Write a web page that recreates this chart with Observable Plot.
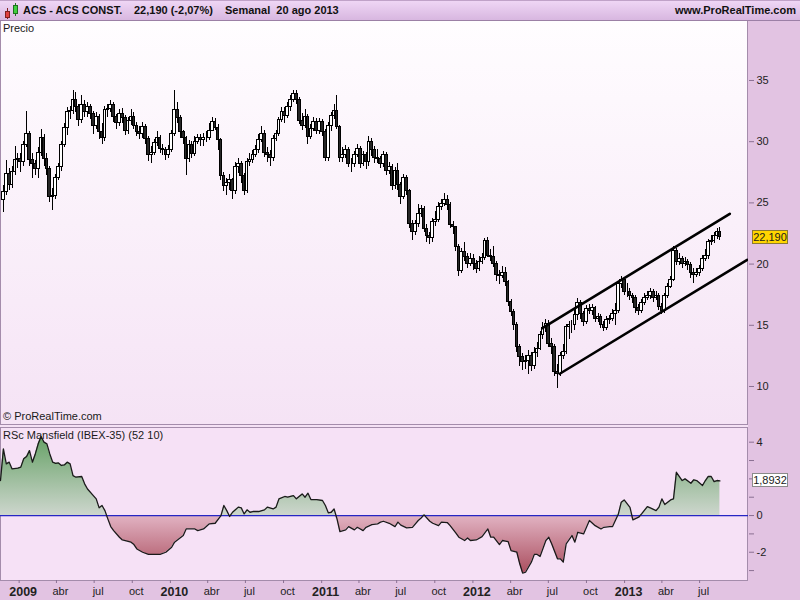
<!DOCTYPE html>
<html><head><meta charset="utf-8">
<script src="https://cdn.jsdelivr.net/npm/d3@7"></script>
<script src="https://cdn.jsdelivr.net/npm/@observablehq/plot@0.6"></script>
<style>
body{margin:0;background:#e2c3e2;font-family:"Liberation Sans",Arial,sans-serif;color:#1a1a1a;}
#page{position:relative;width:800px;height:600px;overflow:hidden;background:#e2c3e2;}
.abs{position:absolute;white-space:nowrap;}
#header{left:0;top:0;width:800px;height:21px;box-sizing:border-box;background:linear-gradient(#efd6f5,#d8b7e0);border-top:1px solid #c0a2c8;border-bottom:1px solid #9c80a6;}
#header span{position:absolute;top:3px;font-weight:bold;font-size:11px;color:#111;}
#pbg{left:0;top:20px;width:748px;height:405px;box-sizing:border-box;background:linear-gradient(#fffdff,#f5e3f5);border-left:1px solid #a48cab;border-right:1px solid #a48cab;border-bottom:1px solid #a48cab;}
#gap{left:0;top:425px;width:748px;height:2px;background:#f5e1f5;}
#rbg{left:0;top:427px;width:748px;height:154px;box-sizing:border-box;background:#f6e1f6;border:1px solid #a48cab;}
.lbl{font-size:11px;color:#1a1a1a;}
.box{font-size:11px;text-align:center;box-sizing:border-box;height:14px;line-height:12px;width:36px;}
</style></head>
<body>
<div id="page">
  <div id="pbg" class="abs"></div>
  <div id="gap" class="abs"></div>
  <div id="rbg" class="abs"></div>
  <div id="header" class="abs">
    <svg class="abs" style="left:2px;top:1px" width="18" height="18">
      <line x1="5.5" y1="6" x2="5.5" y2="17" stroke="#802020"/>
      <rect x="3.5" y="9.5" width="4" height="6" fill="#e04040" stroke="#802020"/>
      <line x1="13.5" y1="1" x2="13.5" y2="14" stroke="#207020"/>
      <rect x="11.5" y="3.5" width="4" height="8" fill="#40d040" stroke="#207020"/>
    </svg>
    <span style="left:23px">ACS - ACS CONST.</span>
    <span style="left:134px">22,190 (-2,07%)</span>
    <span style="left:225px">Semanal&nbsp;&nbsp;20 ago 2013</span>
    <span style="right:4px">www.ProRealTime.com</span>
  </div>
  <div id="pchart" class="abs" style="left:0;top:20px"></div>
  <div id="rchart" class="abs" style="left:0;top:427px"></div>
  <div class="abs lbl" style="left:3px;top:22px">Precio</div>
  <div class="abs lbl" style="left:3px;top:410px">© ProRealTime.com</div>
  <div class="abs lbl" style="left:3px;top:429px">RSc Mansfield (IBEX-35) (52 10)</div>
</div>
<script>
// ---------- DATA ----------
const firstBarWeek = "2008-11-24";      // Monday of the first weekly bar
const firstOpen = 25.2;
const close = [25.9,27.4,26.5,27.5,28.5,28.6,28.3,29.7,30.6,28.5,
28.2,27.8,29.1,30.3,28.6,27.8,25.5,25.6,27.0,27.9,
29.7,31.1,32.4,32.5,33.4,32.8,31.8,33.0,32.4,32.8,
32.3,31.3,32.0,30.8,30.3,32.6,32.7,33.0,32.0,31.5,
32.3,31.9,30.9,31.7,32.0,31.3,30.8,30.6,31.2,30.2,
28.9,29.1,29.9,30.3,29.4,29.3,28.9,29.3,30.6,32.6,
31.9,30.8,30.3,28.6,29.7,29.0,30.0,30.3,
30.1,30.3,30.3,30.9,31.6,31.1,30.1,27.2,26.4,26.6,
26.9,26.0,27.9,28.2,27.2,26.0,28.3,28.5,28.9,29.3,
30.1,30.6,29.1,28.9,28.7,30.2,30.6,31.8,32.4,32.1,
32.8,33.4,33.9,33.4,31.7,31.3,32.0,30.4,31.0,31.6,
30.9,31.6,30.8,28.7,31.3,32.1,32.5,31.2,28.7,28.9,
29.3,28.2,28.2,28.9,29.4,28.2,28.9,28.3,30.0,29.3,
28.7,28.6,28.2,28.9,27.6,27.9,26.4,27.6,26.5,25.5,
27.0,26.0,
23.3,22.6,23.3,24.1,24.5,22.9,22.3,22.1,23.4,23.6,
24.7,24.9,25.2,24.8,23.2,23.0,21.4,19.4,21.0,20.6,
20.0,20.4,20.0,19.6,20.2,20.5,21.9,20.7,20.6,20.0,
19.1,19.0,19.3,18.5,16.9,16.1,15.0,13.2,12.4,12.0,
12.1,12.5,11.7,12.7,13.1,14.2,14.8,15.1,
13.5,13.2,11.2,11.0,12.5,12.8,14.9,15.0,15.0,15.8,
16.8,15.9,15.3,16.3,16.2,16.4,15.5,15.7,15.0,14.8,
15.4,15.5,15.9,16.2,18.4,18.7,17.7,17.7,17.4,17.2,
16.4,16.2,16.8,17.2,17.4,17.7,17.2,17.4,16.5,16.2,
17.4,18.1,18.7,21.1,20.2,20.4,20.0,20.2,19.9,19.3,
19.1,19.3,19.6,20.4,20.7,21.8,21.9,22.3,22.66,22.19];
const high = [26.4,28.5,27.8,28.0,29.6,29.0,29.0,30.0,32.5,30.8,
29.0,28.5,29.5,31.0,30.6,29.0,28.0,26.2,27.3,28.2,
30.0,31.5,32.8,32.9,34.2,34.0,33.0,33.8,33.4,33.2,
33.0,32.5,32.4,32.2,31.5,32.9,33.0,33.4,33.2,32.2,
32.6,32.7,32.1,32.0,32.6,32.4,31.6,31.2,31.6,31.4,
30.4,29.6,30.2,30.8,30.5,29.8,29.5,29.7,30.9,34.2,
33.2,32.1,30.9,30.4,30.1,30.0,30.4,30.6,
30.6,30.7,30.8,31.5,32.0,31.9,31.4,30.3,27.5,27.0,
27.3,27.0,28.3,28.6,28.4,27.4,28.6,29.0,29.3,29.7,
30.6,31.2,30.9,29.5,29.3,30.5,30.9,32.0,32.8,32.8,
33.2,33.8,34.2,34.2,33.6,32.3,32.6,32.2,31.4,32.0,
31.9,31.9,31.8,31.0,31.6,32.4,33.0,33.8,31.3,29.5,
29.7,29.5,28.6,29.2,29.8,29.6,29.2,29.1,30.4,30.3,
29.6,29.4,28.8,29.2,29.1,28.3,28.1,27.9,28.2,26.7,
27.3,27.2,
26.1,23.6,23.6,24.9,24.8,24.7,23.2,22.6,23.7,24.3,
25.0,25.3,25.8,25.6,25.0,23.5,23.1,21.6,21.3,21.8,
20.9,20.9,20.8,20.3,20.6,20.9,22.1,22.2,21.2,21.4,
20.2,19.5,19.8,19.7,18.7,17.1,16.3,15.2,13.4,12.7,
12.5,12.9,12.8,13.2,13.6,14.5,15.2,15.5,
15.4,13.9,13.4,11.8,12.8,13.4,15.1,15.3,15.4,16.2,
17.2,17.0,16.1,16.6,16.7,16.7,16.5,16.0,15.9,15.3,
15.7,15.8,16.3,16.8,18.6,19.0,18.9,18.4,18.0,17.6,
17.4,16.7,17.1,17.6,17.8,18.0,17.9,17.8,17.6,16.8,
17.6,18.4,19.0,21.4,21.3,20.9,20.6,20.5,20.4,20.1,
19.6,19.6,19.9,20.7,21.2,22.0,22.3,22.6,22.9,23.0];
const low = [24.2,25.6,26.0,26.2,27.2,27.8,27.5,28.0,29.5,28.0,
27.0,27.2,27.0,28.8,28.0,27.2,25.0,24.4,25.3,26.8,
27.6,29.5,30.5,31.8,32.2,32.4,31.2,31.5,32.0,32.0,
31.8,30.6,31.0,30.2,29.8,30.0,32.0,32.4,31.6,31.0,
31.2,31.5,30.5,30.6,31.3,31.0,30.4,30.2,30.3,29.8,
28.4,28.2,28.9,29.6,29.0,28.9,28.5,28.6,29.1,30.4,
31.5,30.3,29.8,27.2,28.3,28.6,28.8,29.8,
29.6,29.6,29.9,30.1,30.8,30.9,29.3,26.8,25.9,25.6,
26.0,25.3,25.7,27.4,26.6,25.6,25.8,28.0,28.2,28.7,
29.0,29.9,28.7,28.3,28.0,28.4,30.0,30.4,31.6,31.5,
31.9,32.5,33.2,33.0,31.4,30.9,31.1,29.8,30.2,30.8,
30.6,30.6,30.4,28.4,28.4,30.8,31.8,31.0,28.3,28.3,
28.6,27.9,27.5,27.9,28.7,27.8,28.0,27.7,28.0,28.8,
28.2,28.2,27.8,27.9,27.2,27.3,26.0,26.1,26.0,24.9,
25.3,25.6,
22.9,21.9,22.3,23.0,23.8,22.6,21.8,21.6,21.8,23.1,
23.4,24.4,24.7,24.4,22.9,22.4,21.0,19.0,19.2,20.2,
19.6,19.8,19.5,19.2,19.4,20.0,20.3,20.5,20.2,19.7,
18.6,18.3,18.8,18.2,16.5,15.7,14.6,12.8,11.6,11.3,
11.4,11.0,11.2,11.4,12.4,12.9,13.8,14.4,
13.2,12.6,10.8,9.8,10.8,12.2,12.6,13.8,14.3,14.6,
15.4,15.5,14.9,15.1,15.9,15.8,15.2,15.2,14.7,14.5,
14.6,15.1,15.3,15.0,16.0,18.0,17.4,17.3,17.0,16.8,
16.0,15.8,16.0,16.6,17.0,17.1,16.9,17.0,16.2,15.9,
16.0,17.2,18.0,18.6,19.9,19.9,19.6,19.8,19.5,18.8,
18.4,18.9,19.0,19.4,20.2,20.4,21.5,21.7,22.0,21.9];
// trend channel drawn on the price panel: [week, price]
const channelUpper = [[185.8, 14.77], [250.4, 24.11]];
const channelLower = [[191.8, 11.04], [256.4, 20.35]];
// RSc Mansfield (IBEX-35): [week, value]
const rscPoints = [[-1,1.91],[0,3.63],[1,2.82],[2,2.91],[3,2.54],[5,2.58],[6,2.64],[7,3.09],[8,3.22],[9,3.54],
[10,2.91],[11,3.36],[12,3.91],[13,4.31],[14,4.0],[15,3.91],[16,3.36],[17,2.91],[18,2.85],[19,2.87],
[20,2.73],[21,2.76],[22,2.91],[23,2.82],[24,2.18],[25,2.09],[27,2.13],[28,1.73],[29,1.45],[31,1.09],
[32,0.91],[33,0.42],[34,0.55],[35,0.27],[36,-0.18],[37,-0.60],[38,-0.82],[40,-1.18],[41,-1.33],[44,-1.45],
[45,-1.58],[46,-1.82],[48,-2.0],[50,-2.12],[52,-2.12],[54,-2.12],[56,-2.0],[58,-1.73],[59,-1.45],[60,-1.33],
[62,-1.09],[63,-0.73],[66,-0.73],[67,-0.82],[69,-0.73],[71,-0.45],[73,-0.42],[75,0.0],[76,0.55],[77,0.27],
[78,-0.05],[79,0.18],[81,0.46],[82,0.42],[83,0.09],[84,0.31],[85,0.18],[86,0.22],[88,0.22],[90,0.31],
[91,0.46],[93,0.36],[94,0.46],[95,0.91],[97,1.04],[98,1.0],[100,1.09],[101,0.91],[103,1.18],[104,1.0],
[105,1.22],[106,0.87],[108,0.87],[110,0.82],[111,0.55],[112,0.15],[113,0.18],[114,0.36],[115,-0.18],[116,-0.87],
[118,-0.78],[119,-0.60],[121,-0.78],[122,-0.64],[124,-0.82],[125,-0.64],[127,-0.49],[129,-0.45],[130,-0.36],[131,-0.31],
[133,-0.42],[135,-0.60],[136,-0.36],[137,-0.52],[139,-0.67],[141,-0.64],[143,-0.27],[144,-0.13],[145,0.04],[147,-0.31],
[148,-0.42],[150,-0.55],[151,-0.36],[153,-0.38],[154,-0.55],[156,-0.96],[157,-1.18],[159,-1.36],[160,-1.22],[161,-1.36],
[163,-1.33],[165,-1.15],[167,-0.73],[168,-1.18],[169,-1.18],[171,-1.58],[172,-1.36],[174,-1.42],[175,-1.91],[177,-2.0],
[178,-2.63],[179,-3.14],[180,-3.09],[182,-2.54],[183,-2.12],[184,-2.12],[185,-2.23],[187,-1.36],[188,-1.18],[189,-1.54],
[191,-2.36],[192,-2.36],[193,-2.54],[194,-1.54],[196,-1.09],[197,-1.45],[198,-0.91],[200,-1.0],[202,-0.27],[204,-0.55],
[206,-0.73],[207,-0.64],[209,-0.60],[210,-0.60],[212,0.09],[213,0.73],[214,0.85],[216,0.45],[217,-0.24],[219,-0.09],
[220,0.09],[222,0.49],[223,0.42],[225,0.27],[226,0.46],[227,0.91],[228,0.60],[230,0.85],[231,0.91],[232,2.36],
[234,1.91],[235,2.0],[237,1.76],[238,1.95],[239,1.91],[241,1.64],[242,1.91],[243,2.13],[244,2.13],[245,1.85],
[246,1.91],[247,1.8932]];
const xDomain = ["2008-11-17", "2013-10-27"];
const priceDomain = [6.895, 39.90];
const rscDomain = [-3.54, 4.80];
const priceTicks = [10, 15, 20, 25, 30, 35];
const rscTicks = [4, 3, 2, 1, 0, -1, -2, -3];
const rscTickLabels = [4, 0, -2];
const yearTicks = ["2009-01-01", "2010-01-01", "2011-01-01", "2012-01-01", "2013-01-01"];
const monthTicks = ["2009-04-01","2009-07-01","2009-10-01","2010-04-01","2010-07-01","2010-10-01",
  "2011-04-01","2011-07-01","2011-10-01","2012-04-01","2012-07-01","2012-10-01","2013-04-01","2013-07-01"];
const monthNames = ["ene","feb","mar","abr","may","jun","jul","ago","sep","oct","nov","dic"];

// ---------- BUILD ----------
const DAY = 864e5;
const t0 = new Date(firstBarWeek + "T00:00:00Z").getTime();
const weekDate = w => new Date(t0 + w * 7 * DAY);
const toDate = s => new Date(s + "T00:00:00Z");

const bars = close.map((c, i) => {
  const open = i ? close[i - 1] : firstOpen;
  return {date: weekDate(i), open, close: c, high: Math.max(high[i], open, c), low: Math.min(low[i], open, c),
          fill: c >= open ? "#ffffff" : "#262626"};
});
const upper = channelUpper.map(([w, p]) => ({date: weekDate(w), price: p}));
const lower = channelLower.map(([w, p]) => ({date: weekDate(w), price: p}));
const rsc = rscPoints.map(([w, v]) => ({date: weekDate(w), v, pos: Math.max(0, v), neg: Math.min(0, v)}));

const font = '"Liberation Sans", Arial, sans-serif';
const xScale = {type: "utc", domain: xDomain.map(toDate)};
const tickColor = "#8a7092";

const priceChart = Plot.plot({
  width: 800, height: 404, marginLeft: 0, marginRight: 52, marginTop: 0, marginBottom: 0,
  style: {background: "transparent", fontFamily: font, fontSize: "11px", color: "#222", overflow: "visible"},
  x: {...xScale, axis: null},
  y: {domain: priceDomain},
  color: {type: "identity"},
  marks: [
    Plot.ruleX(bars, {x: "date", y1: "low", y2: "high", stroke: "#000", strokeWidth: 1, shapeRendering: "crispEdges"}),
    Plot.rect(bars, {x1: d => new Date(+d.date - 3.2 * DAY), x2: d => new Date(+d.date + 3.2 * DAY),
      y1: "open", y2: "close", fill: "fill", stroke: "#000", strokeWidth: 1, shapeRendering: "crispEdges"}),
    Plot.line(upper, {x: "date", y: "price", stroke: "#000", strokeWidth: 2.6, clip: true}),
    Plot.line(lower, {x: "date", y: "price", stroke: "#000", strokeWidth: 2.6, clip: true}),
    Plot.axisY({anchor: "right", ticks: priceTicks, tickSize: 5, tickPadding: 3, fontSize: 11, stroke: tickColor,
      tickFormat: d => String(d), label: null})
  ]
});
document.getElementById("pchart").appendChild(priceChart);

const rscChart = Plot.plot({
  width: 800, height: 173, marginLeft: 0, marginRight: 52, marginTop: 0, marginBottom: 20,
  style: {background: "transparent", fontFamily: font, fontSize: "11px", color: "#222", overflow: "visible"},
  x: xScale,
  y: {domain: rscDomain},
  marks: [
    Plot.areaY(rsc, {x: "date", y1: 0, y2: "pos", fill: "#7fae7f"}),
    Plot.areaY(rsc, {x: "date", y1: 0, y2: "neg", fill: "#c98a98"}),
    Plot.ruleY([0], {stroke: "#2626c4", strokeWidth: 1.2}),
    Plot.line(rsc, {x: "date", y: "v", stroke: "#1a1a1a", strokeWidth: 1.3}),
    Plot.axisY({anchor: "right", ticks: rscTicks, tickSize: 5, tickPadding: 3, fontSize: 11, label: null,
      stroke: tickColor, tickFormat: d => rscTickLabels.includes(d) ? String(d) : ""}),
    Plot.axisX({ticks: yearTicks.map(toDate), tickSize: 3, tickPadding: 4, fontSize: 12.5, fontWeight: "bold",
      stroke: tickColor, tickFormat: d => String(d.getUTCFullYear()), label: null, textStroke: "none"}),
    Plot.axisX({ticks: monthTicks.map(toDate), tickSize: 3, tickPadding: 4, fontSize: 11,
      stroke: tickColor, tickFormat: d => monthNames[d.getUTCMonth()], label: null})
  ]
});
document.getElementById("rchart").appendChild(rscChart);

// shift the bottom axis labels slightly right, as in the original software
rscChart.querySelectorAll('g[aria-label="x-axis tick label"] text').forEach(t => {
  t.setAttribute("dx", "4");
});

// gradients for the indicator fills (fixed to the value axis)
const yR = rscChart.scale("y");
const svgNS = "http://www.w3.org/2000/svg";
const defs = document.createElementNS(svgNS, "defs");
function grad(id, v1, v2, c1, c2) {
  const g = document.createElementNS(svgNS, "linearGradient");
  g.setAttribute("id", id);
  g.setAttribute("gradientUnits", "userSpaceOnUse");
  g.setAttribute("x1", 0); g.setAttribute("x2", 0);
  g.setAttribute("y1", yR.apply(v1)); g.setAttribute("y2", yR.apply(v2));
  [[0, c1], [1, c2]].forEach(([o, c]) => {
    const s = document.createElementNS(svgNS, "stop");
    s.setAttribute("offset", o); s.setAttribute("stop-color", c);
    g.appendChild(s);
  });
  defs.appendChild(g);
}
grad("gPos", 4.4, 0, "#64a064", "#cdd6cd");
grad("gNeg", 0, -3.2, "#e2b3c3", "#aa4e5e");
rscChart.insertBefore(defs, rscChart.firstChild);
const areaGroups = rscChart.querySelectorAll('g[aria-label="area"]');
if (areaGroups.length >= 2) {
  areaGroups[0].querySelectorAll("path").forEach(p => p.setAttribute("fill", "url(#gPos)"));
  areaGroups[0].setAttribute("fill", "url(#gPos)");
  areaGroups[1].querySelectorAll("path").forEach(p => p.setAttribute("fill", "url(#gNeg)"));
  areaGroups[1].setAttribute("fill", "url(#gNeg)");
}

// value boxes on the right axis, positioned with the charts' scales
const page = document.getElementById("page");
function addBox(text, top, bg, border) {
  const b = document.createElement("div");
  b.className = "abs box";
  b.style.left = "752px"; b.style.top = (top - 7) + "px";
  b.style.background = bg; b.style.border = "1px solid " + border;
  b.textContent = text;
  page.appendChild(b);
}
const lastClose = close[close.length - 1];
addBox(lastClose.toFixed(3).replace(".", ","), 20 + priceChart.scale("y").apply(lastClose), "#ffd500", "#8c7a30");
const lastRsc = rscPoints[rscPoints.length - 1][1];
addBox(lastRsc.toFixed(4).replace(".", ","), 427 + yR.apply(lastRsc), "#ffffff", "#8a8a8a");
</script>
</body></html>
